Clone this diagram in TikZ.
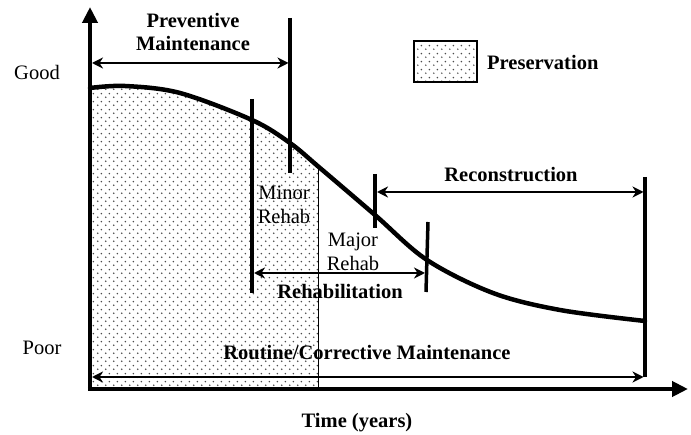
\documentclass[tikz,border=0pt]{standalone}
\usepackage{fontspec}
\setmainfont{Liberation Serif}
\usetikzlibrary{arrows.meta,patterns.meta}

\tikzdeclarepattern{
  name=pdots,
  type=uncolored,
  bounding box={(0pt,0pt) and (8pt,8pt)},
  tile size={(8pt,8pt)},
  code={
    \fill (2pt,2pt) circle (0.95pt);
    \fill (6pt,6pt) circle (0.95pt);
  }
}

\tikzset{
  lbl/.style={font=\fontsize{20.5}{23.5}\selectfont, inner sep=0pt, align=center},
  blbl/.style={font=\fontsize{20.5}{23.5}\selectfont\bfseries, inner sep=0pt, align=center},
  axis/.style={line width=4.5pt, line join=miter, -{Triangle[length=16pt,width=15pt]}},
  curve/.style={line width=4.5pt, line cap=round},
  tick/.style={line width=3.5pt},
  span/.style={line width=2pt, {Stealth[length=11pt,width=11pt,inset=3.5pt]}-{Stealth[length=11pt,width=11pt,inset=3.5pt]}},
  shade/.style={pattern=pdots, pattern color=black!70},
}

\begin{document}
\begin{tikzpicture}[x=1pt,y=-1pt]
\useasboundingbox (0,0) rectangle (691,435);

% shaded preservation region
\begin{scope}
  \clip (90,0) rectangle (318,389);
  \fill[shade] (90,389) -- plot[smooth,tension=0.55] coordinates {(90,88) (125,86) (180,93) (252,120) (290,143) (320,168) (375,215) (427,260) (493,293) (560,310) (645,321)} -- (645,389) -- cycle;
\end{scope}
\coordinate (shTop) at (318,165);
\coordinate (shBot) at (318,389);
\draw[line width=1pt] (shTop) -- (shBot);

% axes
\coordinate (O) at (90,389);
\coordinate (ytip) at (90,7);
\coordinate (xtip) at (688,389);
\draw[axis] (O) -- (ytip);
\draw[axis] ([xshift=-2.25pt]O) -- (xtip);

% deterioration curve
\draw[curve] plot[smooth,tension=0.55] coordinates {(90,88) (125,86) (180,93) (252,120) (290,143) (320,168) (375,215) (427,260) (493,293) (560,310) (645,321)};

% vertical ticks
\coordinate (pmT) at (290,18);   \coordinate (pmB) at (290,173);
\coordinate (mnT) at (252,99);   \coordinate (mnB) at (252,293);
\coordinate (rcT) at (375,174);  \coordinate (rcB) at (375,228);
\coordinate (mjT) at (428,222);  \coordinate (mjB) at (426,292);
\coordinate (endT) at (645,177); \coordinate (endB) at (645,377);
\draw[tick] (pmT) -- (pmB);
\draw[tick] (mnT) -- (mnB);
\draw[tick] (rcT) -- (rcB);
\draw[tick] (mjT) -- (mjB);
\draw[tick] (endT) -- (endB);

% span arrows
\coordinate (pmL) at (92,63);   \coordinate (pmR) at (288.5,63);
\coordinate (rhL) at (254,273); \coordinate (rhR) at (425,273);
\coordinate (rcL) at (377,192); \coordinate (rcR) at (643.5,192);
\coordinate (rtL) at (92,377);  \coordinate (rtR) at (643.5,377);
\draw[span] (pmL) -- (pmR);
\draw[span] (rhL) -- (rhR);
\draw[span] (rcL) -- (rcR);
\draw[span] (rtL) -- (rtR);

% legend
\draw[shade, line width=1.5pt] (414,41) rectangle (477,82);
\node[blbl, anchor=west] (leg) at (487,62) {Preservation};

% labels
\node[lbl] (good) at (37,72) {Good};
\node[lbl] (poor) at (42,348) {Poor};
\node[blbl] (pm) at (193,32) {Preventive\\Maintenance};
\node[lbl] (minor) at (284,205) {Minor\\Rehab};
\node[lbl] (major) at (353,252) {Major\\Rehab};
\node[blbl] (rehab) at (340,291) {Rehabilitation};
\node[blbl] (recon) at (511,175) {Reconstruction};
\node[blbl] (routine) at (367,353) {Routine/Corrective Maintenance};
\node[blbl] (time) at (357,423) {Time (years)};
\end{tikzpicture}
\end{document}
